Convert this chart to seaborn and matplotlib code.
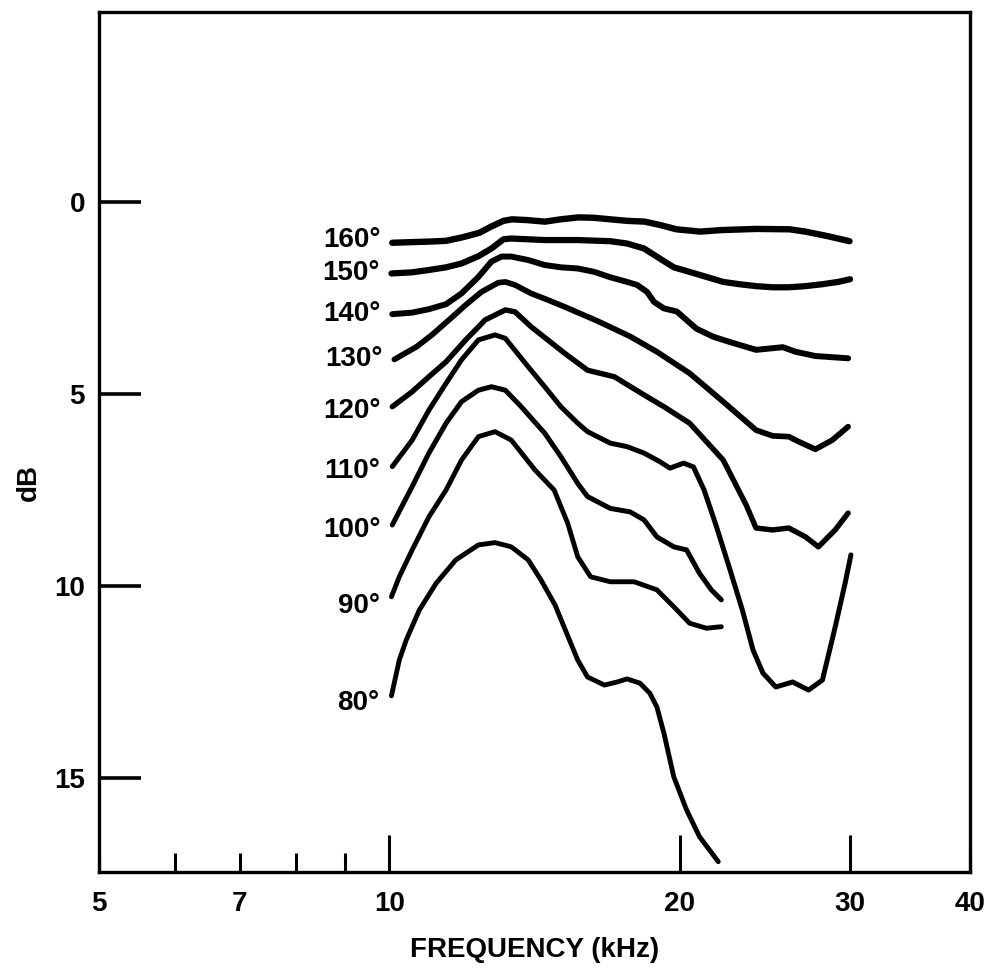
import matplotlib
matplotlib.use("Agg")
import matplotlib.pyplot as plt
import numpy as np
import pandas as pd
import seaborn as sns
from matplotlib.ticker import FixedLocator, FixedFormatter

# ---------------- data (frequency in kHz, level in dB; dB axis drawn downward) ----------------
angles = [160, 150, 140, 130, 120, 110, 100, 90, 80]

f160 = [10.07, 11.0, 11.45, 11.9, 12.4, 12.75, 13.13, 13.4, 13.9, 14.5, 15.05, 15.7, 16.3, 16.95,
        17.65, 18.4, 19.1, 19.85, 21.0, 22.1, 24.0, 26.0, 27.0, 28.5, 30.0]
d160 = [1.06, 1.03, 1.01, 0.92, 0.80, 0.64, 0.49, 0.45, 0.47, 0.51, 0.45, 0.40, 0.41, 0.45,
        0.49, 0.51, 0.60, 0.71, 0.77, 0.73, 0.70, 0.71, 0.77, 0.89, 1.02]

f150 = [10.05, 10.56, 10.99, 11.45, 11.88, 12.37, 12.76, 13.13, 13.37, 13.93, 14.49, 15.68, 16.95,
        17.64, 18.37, 19.07, 19.72, 20.48, 21.32, 22.19, 23.06, 24.0, 24.97, 25.95, 27.01, 28.12,
        29.2, 30.04]
d150 = [1.86, 1.83, 1.77, 1.70, 1.60, 1.41, 1.21, 0.97, 0.95, 0.97, 0.99, 0.99, 1.02,
        1.08, 1.21, 1.47, 1.70, 1.82, 1.95, 2.08, 2.14, 2.19, 2.22, 2.22, 2.19, 2.14,
        2.08, 2.01]

f140 = [10.07, 10.56, 10.99, 11.45, 11.88, 12.37, 12.76, 13.07, 13.38, 13.93, 14.49, 15.06, 15.68,
        16.32, 16.95, 17.64, 18.07, 18.50, 18.81, 19.26, 19.86, 20.82, 21.68, 22.51, 24.0, 25.58,
        26.38, 27.65, 29.9]
d140 = [2.92, 2.88, 2.79, 2.66, 2.38, 1.95, 1.55, 1.42, 1.42, 1.51, 1.64, 1.70, 1.73,
        1.82, 1.96, 2.08, 2.16, 2.34, 2.60, 2.77, 2.85, 3.30, 3.51, 3.64, 3.85, 3.78,
        3.90, 4.01, 4.07]

f130 = [10.12, 10.67, 11.07, 11.53, 12.0, 12.46, 12.97, 13.19, 13.5, 14.03, 14.6, 15.2, 16.44,
        17.77, 18.94, 20.48, 22.19, 24.0, 24.97, 25.95, 26.57, 27.65, 28.79, 29.9]
d130 = [4.10, 3.77, 3.46, 3.07, 2.68, 2.34, 2.10, 2.08, 2.16, 2.38, 2.55, 2.73, 3.10,
        3.50, 3.90, 4.46, 5.20, 5.94, 6.09, 6.11, 6.24, 6.44, 6.20, 5.85]

f120 = [10.07, 10.56, 10.99, 11.45, 12.0, 12.57, 13.19, 13.5, 14.03, 15.2, 16.05, 17.11, 18.5,
        19.26, 20.48, 22.19, 23.44, 24.0, 24.97, 25.95, 27.01, 27.85, 28.99, 29.9]
d120 = [5.33, 4.94, 4.55, 4.16, 3.59, 3.07, 2.81, 2.86, 3.25, 3.94, 4.38, 4.55, 5.07,
        5.33, 5.76, 6.72, 7.89, 8.49, 8.54, 8.49, 8.72, 8.98, 8.54, 8.10]

f110 = [10.07, 10.56, 10.99, 11.45, 11.88, 12.37, 12.87, 13.19, 13.93, 14.49, 15.06, 15.68, 16.05,
        16.95, 17.64, 18.37, 19.07, 19.54, 20.19, 20.67, 21.2, 21.8, 22.51, 23.23, 23.83, 24.4,
        25.16, 26.19, 27.2, 28.12, 28.99, 29.69, 30.1]
d110 = [6.89, 6.20, 5.42, 4.72, 4.11, 3.59, 3.46, 3.55, 4.29, 4.81, 5.33, 5.76, 5.98,
        6.28, 6.37, 6.54, 6.76, 6.93, 6.80, 6.90, 7.50, 8.40, 9.51, 10.63, 11.67, 12.27,
        12.63, 12.50, 12.71, 12.45, 11.07, 9.92, 9.19]

f100 = [10.07, 10.56, 10.99, 11.45, 11.88, 12.37, 12.76, 13.19, 13.7, 14.49, 15.06, 15.68, 16.05,
        16.95, 17.77, 18.37, 18.94, 19.72, 20.33, 20.97, 21.57, 22.09]
d100 = [8.41, 7.41, 6.54, 5.76, 5.20, 4.90, 4.81, 4.90, 5.33, 6.02, 6.63, 7.33, 7.67,
        7.98, 8.07, 8.28, 8.72, 8.98, 9.06, 9.67, 10.10, 10.36]

f90 = [10.05, 10.24, 10.56, 10.99, 11.45, 11.88, 12.37, 12.87, 13.38, 14.16, 14.82, 15.31, 15.68,
       16.17, 16.95, 17.94, 18.94, 19.72, 20.48, 21.32, 22.09]
d90 = [10.28, 9.76, 9.06, 8.20, 7.50, 6.72, 6.11, 5.98, 6.20, 6.98, 7.50, 8.37, 9.24,
       9.76, 9.89, 9.89, 10.10, 10.54, 10.97, 11.10, 11.06]

f80 = [10.05, 10.24, 10.41, 10.74, 11.18, 11.72, 12.37, 12.87, 13.38, 13.93, 14.36, 14.85, 15.31,
       15.68, 16.05, 16.71, 17.23, 17.64, 18.19, 18.62, 18.94, 19.26, 19.72, 20.33, 20.97, 21.93]
d80 = [12.86, 11.93, 11.41, 10.63, 9.93, 9.32, 8.93, 8.87, 8.98, 9.32, 9.84, 10.49, 11.30,
       11.93, 12.37, 12.58, 12.50, 12.42, 12.53, 12.79, 13.15, 13.83, 14.97, 15.83, 16.53, 17.18]

freqs = [f160, f150, f140, f130, f120, f110, f100, f90, f80]
levels = [d160, d150, d140, d130, d120, d110, d100, d90, d80]

x_major = [10, 20, 30]
x_major_labels = ["10", "20", "30"]
x_minor = [5, 6, 7, 8, 9, 40]
x_minor_labels = ["5", "", "7", "", "", "40"]
y_ticks = [0, 5, 10, 15]
y_tick_labels = ["0", "5", "10", "15"]

# ---------------- styles ----------------
line_widths = {160: 4.6, 150: 4.5, 140: 4.3, 130: 4.1, 120: 3.9, 110: 3.6, 100: 3.6, 90: 3.5, 80: 3.5}
label_dy = {160: 2, 150: 0, 140: 0, 130: 0, 120: -3, 110: -3, 100: -3.5, 90: -7, 80: -5}

sns.set_style("white")
plt.rcParams["font.family"] = ["Liberation Sans", "DejaVu Sans"]
plt.rcParams["font.weight"] = "bold"
for key in ["text.color", "axes.labelcolor", "xtick.color", "ytick.color", "axes.edgecolor"]:
    plt.rcParams[key] = "black"

df = pd.concat(
    [pd.DataFrame({"angle": a, "freq": f, "db": d}) for a, f, d in zip(angles, freqs, levels)],
    ignore_index=True,
)

fig = plt.figure(figsize=(9.95, 9.75), dpi=100)
ax = fig.add_axes([0.0995, 0.1056, 0.8754, 0.8821])

for a in angles:
    sub = df[df["angle"] == a]
    sns.lineplot(data=sub, x="freq", y="db", ax=ax, color="black", linewidth=line_widths[a],
                 estimator=None, sort=False, legend=False,
                 solid_capstyle="round", solid_joinstyle="round")
    ax.annotate(f"{a}°", xy=(sub["freq"].iloc[0], sub["db"].iloc[0]),
                xytext=(-8.5, label_dy[a]), textcoords="offset points",
                ha="right", va="center", fontsize=20, fontweight="bold", color="black")

ax.set_xscale("log")
ax.set_xlim(5, 40)
ax.set_ylim(17.45, -4.95)

ax.xaxis.set_major_locator(FixedLocator(x_major))
ax.xaxis.set_major_formatter(FixedFormatter(x_major_labels))
ax.xaxis.set_minor_locator(FixedLocator(x_minor))
ax.xaxis.set_minor_formatter(FixedFormatter(x_minor_labels))
ax.yaxis.set_major_locator(FixedLocator(y_ticks))
ax.yaxis.set_major_formatter(FixedFormatter(y_tick_labels))
ax.yaxis.set_minor_locator(FixedLocator([]))

ax.tick_params(axis="x", which="major", direction="in", length=27, width=2.2, pad=14,
               labelsize=20, bottom=True, top=False, color="black", labelcolor="black")
ax.tick_params(axis="x", which="minor", direction="in", length=14, width=2.2, pad=14,
               labelsize=20, bottom=True, top=False, color="black", labelcolor="black")
ax.tick_params(axis="y", which="major", direction="in", length=30, width=2.6, pad=10,
               labelsize=20, left=True, right=False, color="black", labelcolor="black")

for sp in ax.spines.values():
    sp.set_visible(True)
    sp.set_linewidth(2.4)
    sp.set_color("black")

ax.set_xlabel("FREQUENCY (kHz)", fontsize=20, fontweight="bold", va="center", color="black")
ax.xaxis.set_label_coords(0.5, -0.0907)
ax.set_ylabel("dB", fontsize=20, fontweight="bold", va="center", color="black")
ax.yaxis.set_label_coords(-0.081, 0.4535)

fig.savefig("out.png", dpi=100)
